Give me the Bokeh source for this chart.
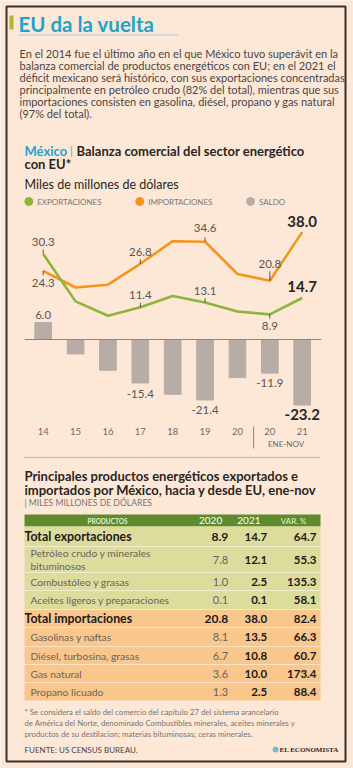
from bokeh.plotting import figure
from bokeh.models import Range1d, ColumnDataSource
from bokeh.core.properties import value
from bokeh.embed import file_html
from bokeh.resources import INLINE

# ---------------- data ----------------
years = ["14", "15", "16", "17", "18", "19", "20", "20", "21"]
exportaciones = [30.3, 13.5, 8.4, 11.4, 15.4, 13.1, 9.9, 8.9, 14.7]
importaciones = [24.3, 18.4, 19.4, 26.8, 34.8, 34.6, 23.2, 20.8, 38.0]
saldo = [6.0, -5.1, -10.9, -15.4, -19.4, -21.4, -13.5, -11.9, -23.2]
periodo = "ENE-NOV"
labeled = [0, 3, 5, 7, 8]

tabla_productos = ["Total exportaciones", "Petróleo crudo y minerales\nbituminosos",
                   "Combustóleo y grasas", "Aceites ligeros y preparaciones",
                   "Total importaciones", "Gasolinas y naftas",
                   "Diésel, turbosina, grasas", "Gas natural", "Propano licuado"]
tabla_2020 = [8.9, 7.8, 1.0, 0.1, 20.8, 8.1, 6.7, 3.6, 1.3]
tabla_2021 = [14.7, 12.1, 2.5, 0.1, 38.0, 13.5, 10.8, 10.0, 2.5]
tabla_var = [64.7, 55.3, 135.3, 58.1, 82.4, 66.3, 60.7, 173.4, 88.4]
tabla_total = [True, False, False, False, True, False, False, False, False]
tabla_grupo = ["exp", "exp", "exp", "exp", "imp", "imp", "imp", "imp", "imp"]
tabla_cols = ["PRODUCTOS", "2020", "2021", "VAR. %"]

titulo = "EU da la vuelta"
parrafo = [
    "En el 2014 fue el último año en el que México tuvo superávit en la",
    "balanza comercial de productos energéticos con EU; en el 2021 el",
    "déficit mexicano será histórico, con sus exportaciones concentradas",
    "principalmente en petróleo crudo (82% del total), mientras que sus",
    "importaciones consisten en gasolina, diésel, propano y gas natural",
    "(97% del total).",
]
nota = [
    "* Se considera el saldo del comercio del capítulo 27 del sistema arancelario",
    "de América del Norte, denominado Combustibles minerales, aceites minerales y",
    "productos de su destilacion; materias bituminosas; ceras minerales.",
]

# ---------------- style ----------------
BG = "#fde8d8"
TEAL = "#22a3c8"
GREEN = "#8db53a"
ORANGE = "#f3951f"
GRAY = "#b7ada6"
DARK = "#2a2522"
TXT = "#4a4542"
LIGHT = "#7a7470"
FONT = "Lato"

W, H = 353, 768
p = figure(width=W, height=H, x_range=Range1d(0, W), y_range=Range1d(H, 0),
           output_backend="svg", toolbar_location=None, min_border=0,
           background_fill_color=BG, border_fill_color=BG, outline_line_color=None)
p.axis.visible = False
p.grid.visible = False

# chart scales: category index -> x, value -> y
X0, DX = 42.7, 32.375
Y0, SY = 339.0, 2.825
p.extra_x_ranges = {"cx": Range1d(-X0 / DX, (W - X0) / DX)}
p.extra_y_ranges = {"cy": Range1d(-(H - Y0) / SY, Y0 / SY)}


def t(x, y, s, size, color=TXT, style="normal", align="left", font=FONT, baseline="middle"):
    p.text(x=[x], y=[y], text=[s], text_font=value(font), text_font_size=f"{size}px",
           text_color=color, text_font_style=style, text_align=align, text_baseline=baseline)


# frame
p.quad(left=[6], right=[345], top=[6], bottom=[761], fill_color=None,
       line_color="#3a2e28", line_width=2)

# title
p.quad(left=[9], right=[13], top=[15], bottom=[29], fill_color="#a8b83a", line_color=None)
t(18, 23, titulo, 20.5, TEAL, "bold")
p.segment(x0=[18], y0=[34.5], x1=[178], y1=[34.5], line_color="#9fcfdf", line_width=1)
for k, line in enumerate(parrafo):
    t(19, 52.5 + 12.1 * k, line, 11, TXT)

# chart title
t(24, 150, "México", 13, TEAL, "bold")
t(69.5, 150, "|", 12, "#9a9490")
t(76, 150, "Balanza comercial del sector energético", 13, DARK, "bold")
t(24, 163, "con EU*", 13, DARK, "bold")
t(24, 183.5, "Miles de millones de dólares", 12.5, DARK)
for cx, col, lab in [(28.3, GREEN, "EXPORTACIONES"), (139.3, ORANGE, "IMPORTACIONES"), (250, GRAY, "SALDO")]:
    p.scatter(x=[cx], y=[201], size=8, color=col)
    t(cx + 8.4, 201.5, lab, 8, LIGHT)

# chart
idx = list(range(len(years)))
src = ColumnDataSource(dict(x=idx, exp=exportaciones, imp=importaciones, sal=saldo, yr=years))
p.vbar(x="x", top="sal", bottom=0, width=0.515, source=src, color=GRAY,
       x_range_name="cx", y_range_name="cy")
p.segment(x0=[-0.57], y0=[0], x1=[8.59], y1=[0], line_color="#8a8480", line_width=1,
          x_range_name="cx", y_range_name="cy")
p.line(x="x", y="imp", source=src, line_color=ORANGE, line_width=2.6,
       x_range_name="cx", y_range_name="cy")
p.line(x="x", y="exp", source=src, line_color=GREEN, line_width=2.6,
       x_range_name="cx", y_range_name="cy")

# point labels (offset in px; negative = above)
exp_off = {0: -12, 3: -12, 5: -11, 7: 12, 8: -11}
imp_off = {0: 12.5, 3: -12, 5: -13.5, 7: -17, 8: -11}
sal_off = {0: -8, 3: 10.5, 5: 10, 7: 10, 8: 9}
lx, ly, lt, lo, lc, lsz, lst = [], [], [], [], [], [], []
tx0, ty0, ty1 = [], [], []
for series, off in [(exportaciones, exp_off), (importaciones, imp_off)]:
    for i in labeled:
        v = series[i]
        last = i == len(years) - 1
        lx.append(i); ly.append(v); lt.append(f"{v:.1f}"); lo.append(off[i])
        lc.append(DARK if last else "#5a5450"); lsz.append("15px" if last else "11.5px")
        lst.append("bold" if last else "normal")
        if not last:
            d = off[i]
            ln = (4.5 if abs(d) < 15 else 9.5) * (1 if d > 0 else -1)
            tx0.append(i); ty0.append(v); ty1.append(v - ln / SY)
for i in labeled:
    v = saldo[i]
    last = i == len(years) - 1
    lx.append(i); ly.append(v); lt.append(f"{v:.1f}"); lo.append(sal_off[i])
    lc.append(DARK if last else "#5a5450"); lsz.append("15px" if last else "11.5px")
    lst.append("bold" if last else "normal")
p.segment(x0=tx0, y0=ty0, x1=tx0, y1=ty1, line_color="#3a3430", line_width=0.8,
          x_range_name="cx", y_range_name="cy")
lsrc = ColumnDataSource(dict(x=lx, y=ly, t=lt, o=lo, c=lc, s=lsz, st=lst))
p.text(x="x", y="y", text="t", y_offset="o", text_color="c", text_font_size="s",
       text_font_style="st", text_font=value(FONT), text_align="center", text_baseline="middle",
       source=lsrc, x_range_name="cx", y_range_name="cy")

# x tick labels
p.text(x="x", y=value(-32.6), text="yr", source=src, text_font=value(FONT),
       text_font_size="9.5px", text_color="#6e6864", text_align="center", text_baseline="middle",
       x_range_name="cx", y_range_name="cy")
p.text(x=[7.5], y=[-36.9], text=[periodo], text_font=value(FONT), text_font_size="8px",
       text_color="#6e6864", text_align="center", text_baseline="middle",
       x_range_name="cx", y_range_name="cy")
p.segment(x0=[6.5], y0=[-30.8], x1=[6.5], y1=[-38.6], line_color="#8a8480", line_width=1,
          x_range_name="cx", y_range_name="cy")

# divider
p.segment(x0=[24], y0=[457], x1=[320], y1=[457], line_color="#c9c0b9", line_width=1.5)

# table title
t(24, 475, "Principales productos energéticos exportados e", 13, DARK, "bold")
t(24, 489, "importados por México, hacia y desde EU, ene-nov", 13, DARK, "bold")
t(24, 502.5, "| MILES MILLONES DE DÓLARES", 8.6, LIGHT)

# table
TL, TR = 24, 320
p.quad(left=[TL], right=[TR], top=[514], bottom=[526], fill_color="#5e8b2d", line_color=None)
t(107, 520.5, tabla_cols[0], 6.5, "#e8efd8", "bold", "center")
t(221.7, 520.3, tabla_cols[1], 10, "white", "normal", "right")
t(260, 520.3, tabla_cols[2], 10, "white", "normal", "right")
t(306, 520.5, tabla_cols[3], 8, "#e8efd8", "normal", "right")

row_h = [20, 26, 18, 19, 18, 19, 18, 18, 18]
top = 526
for i, name in enumerate(tabla_productos):
    h = row_h[i]
    fill = "#dcdc9c" if tabla_grupo[i] == "exp" else "#f9c68c"
    p.quad(left=[TL], right=[TR], top=[top], bottom=[top + h], fill_color=fill, line_color=None)
    if i > 0:
        p.segment(x0=[TL], y0=[top], x1=[TR], y1=[top], line_color="white", line_alpha=0.45,
                  line_width=1)
    cy = top + h / 2
    if tabla_total[i]:
        t(24, cy, name, 12.3, "#1e1a18", "bold")
        t(227.7, cy, f"{tabla_2020[i]:.1f}", 12, "#1e1a18", "bold", "right")
    else:
        lines = name.split("\n")
        for k, ln in enumerate(lines):
            t(30, cy + (k - (len(lines) - 1) / 2) * 12.3, ln, 10.3, "#6a6460")
        t(227.7, cy, f"{tabla_2020[i]:.1f}", 11, "#6a6460", "normal", "right")
    t(266.7, cy, f"{tabla_2021[i]:.1f}", 11.5, "#1e1a18", "bold", "right")
    t(316, cy, f"{tabla_var[i]:.1f}", 11.5, "#1e1a18", "bold", "right")
    top += h

# footnote
for k, line in enumerate(nota):
    t(24, 711 + 11 * k, line, 7.8, LIGHT)
t(24, 749, "FUENTE: US CENSUS BUREAU.", 8, "#4a4542")
p.scatter(x=[275], y=[749], size=5, color="#6cbccc")
t(279, 749.5, "EL ECONOMISTA", 7, "#2a2522", "bold", font="Liberation Serif")

open("out.html", "w").write(file_html(p, INLINE))
